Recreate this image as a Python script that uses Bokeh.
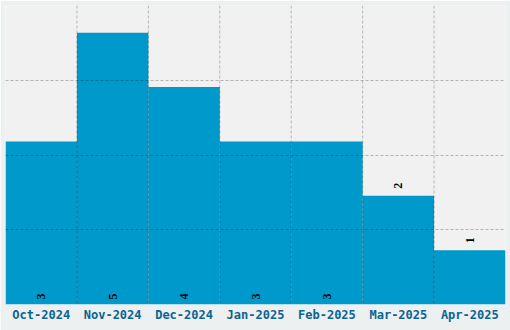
import math
from bokeh.plotting import figure
from bokeh.models import ColumnDataSource, FactorRange, Range1d, FixedTicker, LabelSet, Span
from bokeh.embed import file_html
from bokeh.resources import INLINE

months = ["Oct-2024", "Nov-2024", "Dec-2024", "Jan-2025", "Feb-2025", "Mar-2025", "Apr-2025"]
counts = [3, 5, 4, 3, 3, 2, 1]

inside = [c >= 3 for c in counts]
label_y = [0 if i else c for c, i in zip(counts, inside)]
label_off = [5 if i else 7 for i in inside]

src = ColumnDataSource(dict(month=months, count=counts, label=[str(c) for c in counts],
                            ly=label_y, loff=label_off))

p = figure(x_range=FactorRange(factors=months, range_padding=0), y_range=Range1d(0, 5.5),
           width=510, height=330, output_backend="svg", toolbar_location=None,
           min_border_left=5, min_border_right=5, min_border_top=5, min_border_bottom=26)
p.background_fill_color = "#f1f1f1"
p.border_fill_color = "#edf0f0"
p.outline_line_color = None

p.vbar(x="month", top="count", width=1.0, source=src, color="#0099cc", line_color=None)

p.yaxis.visible = False
p.xaxis.axis_line_color = None
p.xaxis.major_tick_line_color = None
p.xaxis.minor_tick_line_color = None
p.xaxis.major_tick_out = 0
p.xaxis.major_tick_in = 0
p.xaxis.minor_tick_out = 0
p.xaxis.major_label_standoff = 3
p.xaxis.major_label_text_font = "DejaVu Sans Mono"
p.xaxis.major_label_text_font_style = "bold"
p.xaxis.major_label_text_font_size = "12px"
p.xaxis.major_label_text_color = "#0b6494"

p.xgrid.grid_line_color = None
p.ygrid.ticker = FixedTicker(ticks=[1.375, 2.75, 4.125])
p.ygrid.level = "overlay"
p.ygrid.grid_line_color = "black"
p.ygrid.grid_line_alpha = 0.25
p.ygrid.grid_line_dash = "3 2"

for k in range(1, len(months)):
    p.add_layout(Span(location=k, dimension="height", line_color="black", line_alpha=0.25,
                      line_dash="3 2", line_width=1))

labels = LabelSet(x="month", y="ly", text="label", source=src, angle=math.pi / 2,
                  text_align="left", text_baseline="middle", y_offset="loff",
                  text_font="DejaVu Sans Mono", text_font_style="bold",
                  text_font_size="12px", text_color="black")
p.add_layout(labels)

open("out.html", "w").write(file_html(p, INLINE))
